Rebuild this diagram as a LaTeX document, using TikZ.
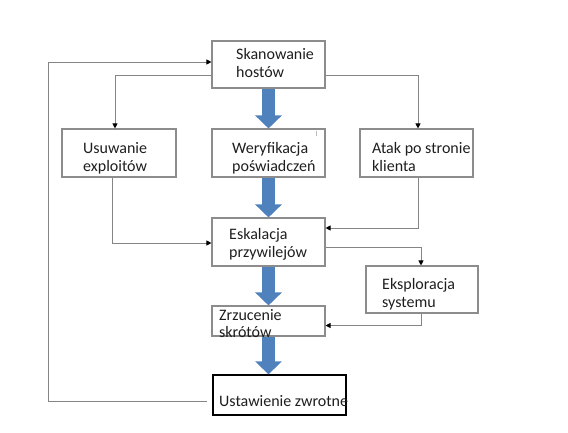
\documentclass[tikz,border=0pt]{standalone}
\usepackage{fontspec}
\setmainfont{Carlito}
\usetikzlibrary{arrows.meta,calc}
\definecolor{boxgray}{HTML}{8C8C8C}
\definecolor{linegray}{HTML}{858585}
\definecolor{txt}{HTML}{1E1E1E}
\definecolor{bluearr}{HTML}{4F81BD}
\begin{document}
\begin{tikzpicture}[x=1pt,y=-1pt,
  box/.style={draw=boxgray, line width=1.1pt, inner sep=0pt, minimum width=113pt, minimum height=47pt},
  lbl/.style={anchor=base west, inner sep=0pt, text=txt, font=\fontsize{16}{18}\selectfont},
  conn/.style={draw=linegray, line width=0.9pt, -{Triangle[length=5pt,width=5pt,color=black]}},
  bigarrow/.style={draw=bluearr, line width=13pt, -{Triangle[length=13pt,width=26pt]}}]
\useasboundingbox (0,0) rectangle (568,432);
% boxes
\node[box] (skan) at (268.5,64.5) {};
\node[box, minimum width=114pt, minimum height=48pt] (usu) at (119,153) {};
\node[box, minimum height=48pt] (wer) at (268.5,153) {};
\node[box, minimum height=48pt] (atak) at (416.5,153) {};
\node[box, minimum height=48pt] (esk) at (268.5,242) {};
\node[box, minimum width=112pt] (eksp) at (422,289.5) {};
\node[box, minimum height=30pt] (zrz) at (268.5,321) {};
\node[draw=black, line width=1.3pt, inner sep=0pt, minimum width=133pt, minimum height=40pt] (ust) at (279.5,395) {};
% texts
\node[lbl] (t1a) at (236,59) {Skanowanie};
\node[lbl] (t1b) at (236,77) {hostów};
\node[lbl] (t2a) at (83,153) {Usuwanie};
\node[lbl] (t2b) at (83,171) {exploitów};
\node[lbl] (t3a) at (232,153) {Weryfikacja};
\node[lbl] (t3b) at (232,171) {poświadczeń};
\node[lbl] (t4a) at (372,153) {Atak po stronie};
\node[lbl] (t4b) at (372,171) {klienta};
\node[lbl] (t5a) at (229,239) {Eskalacja};
\node[lbl] (t5b) at (229,257) {przywilejów};
\node[lbl] (t6a) at (382,289) {Eksploracja};
\node[lbl] (t6b) at (382,307) {systemu};
\node[lbl] (t7a) at (219,320) {Zrzucenie};
\node[lbl] (t7b) at (219,337) {skrótów};
\node[lbl] (t8a) at (219,406) {Ustawienie zwrotne};
\draw[boxgray!60, line width=0.6pt] (316,131) -- (316,136);
% blue arrows
\draw[bigarrow] (skan.south) -- (wer.north);
\draw[bigarrow] (wer.south) -- (esk.north);
\draw[bigarrow] (esk.south) -- (zrz.north);
\draw[bigarrow] (zrz.south) -- (zrz.south |- ust.north);
% connectors
\coordinate (ls) at (207,401);
\draw[conn] (ls) -| (48,62) -- (skan.west |- 0,62);
\draw[conn] ([yshift=-10.5pt]skan.west) -| ([xshift=-4pt]usu.north);
\draw[conn] ([yshift=-11pt]skan.east) -| ([xshift=1.5pt]atak.north);
\draw[conn] ([xshift=-7pt]usu.south) |- ([yshift=-1pt]esk.west);
\draw[conn] ([xshift=1.5pt]atak.south) |- ([yshift=14pt]esk.east);
\draw[conn] ([yshift=-5pt]esk.east) -| ([xshift=-1pt]eksp.north);
\draw[conn] ([xshift=-1pt]eksp.south) |- ([yshift=-4.5pt]zrz.east);
\end{tikzpicture}
\end{document}
